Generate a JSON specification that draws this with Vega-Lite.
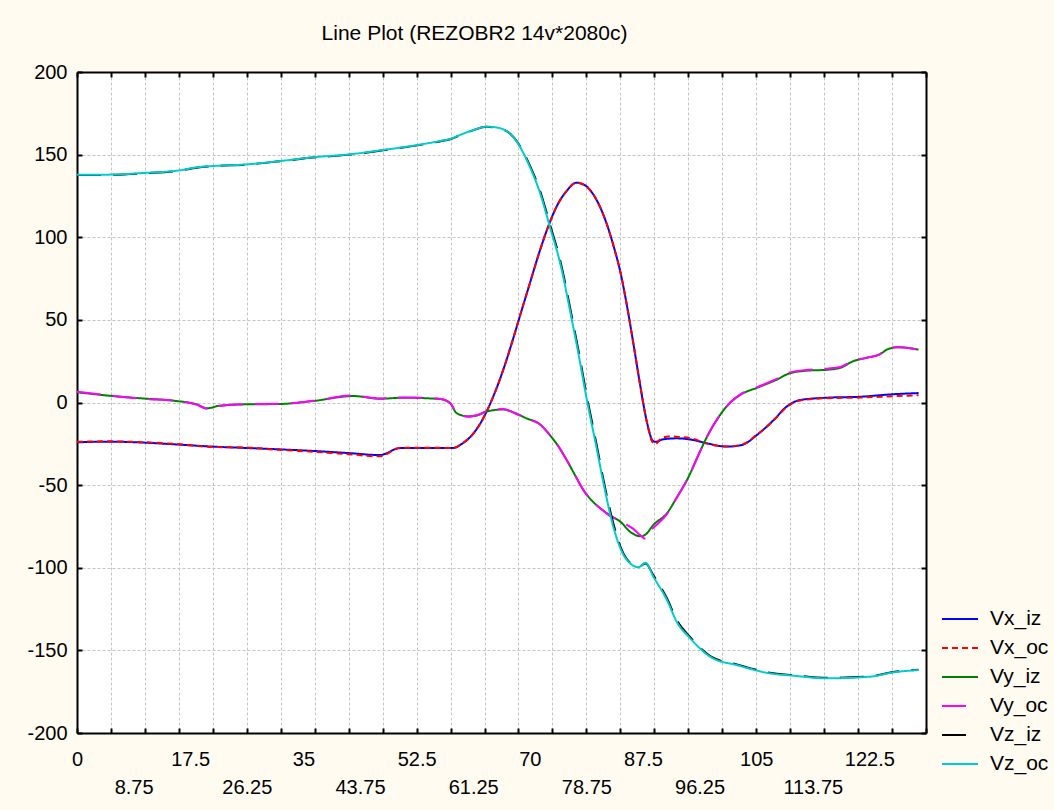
{
  "$schema": "https://vega.github.io/schema/vega-lite/v6.json",
  "autosize": "none",
  "width": 849,
  "height": 661,
  "padding": {"left": 77, "top": 72, "right": 128, "bottom": 77},
  "background": "#FFFBF0",
  "title": {"text": "Line Plot (REZOBR2 14v*2080c)", "font": "Liberation Sans", "fontSize": 21, "fontWeight": "normal", "color": "black", "anchor": "middle", "dx": -27, "offset": 18},
  "config": {"view": {"stroke": null, "fill": "white"}, "font": "Liberation Sans"},
  "datasets": {
    "d": [
      {"s":"Vx_iz","x":0,"v":-24.1},{"s":"Vx_iz","x":5,"v":-23.7},{"s":"Vx_iz","x":10,"v":-24.2},{"s":"Vx_iz","x":15,"v":-25.3},{"s":"Vx_iz","x":21,"v":-26.7},{"s":"Vx_iz","x":26,"v":-27.5},{"s":"Vx_iz","x":31,"v":-28.3},{"s":"Vx_iz","x":36.5,"v":-29.3},{"s":"Vx_iz","x":42,"v":-30.6},{"s":"Vx_iz","x":46.8,"v":-31.8},{"s":"Vx_iz","x":48,"v":-30.5},{"s":"Vx_iz","x":49,"v":-28.5},{"s":"Vx_iz","x":50,"v":-27.6},{"s":"Vx_iz","x":55,"v":-27.6},{"s":"Vx_iz","x":58.2,"v":-27.5},{"s":"Vx_iz","x":59.5,"v":-25},{"s":"Vx_iz","x":61,"v":-20},{"s":"Vx_iz","x":62.3,"v":-13},{"s":"Vx_iz","x":63.5,"v":-4},{"s":"Vx_iz","x":64.7,"v":7},{"s":"Vx_iz","x":66,"v":21},{"s":"Vx_iz","x":67.3,"v":37},{"s":"Vx_iz","x":68.6,"v":54},{"s":"Vx_iz","x":70,"v":72},{"s":"Vx_iz","x":71.4,"v":90},{"s":"Vx_iz","x":72.8,"v":106},{"s":"Vx_iz","x":74.2,"v":119},{"s":"Vx_iz","x":75.7,"v":128},{"s":"Vx_iz","x":77.2,"v":133},{"s":"Vx_iz","x":78.5,"v":131.5},{"s":"Vx_iz","x":79.8,"v":126},{"s":"Vx_iz","x":80.9,"v":118},{"s":"Vx_iz","x":81.9,"v":108},{"s":"Vx_iz","x":83,"v":94},{"s":"Vx_iz","x":84,"v":79},{"s":"Vx_iz","x":85,"v":59},{"s":"Vx_iz","x":86,"v":36},{"s":"Vx_iz","x":87,"v":12},{"s":"Vx_iz","x":87.7,"v":-4},{"s":"Vx_iz","x":88.3,"v":-15},{"s":"Vx_iz","x":88.9,"v":-22.5},{"s":"Vx_iz","x":89.4,"v":-23.8},{"s":"Vx_iz","x":90.6,"v":-22.3},{"s":"Vx_iz","x":92.7,"v":-21.7},{"s":"Vx_iz","x":95.3,"v":-22.7},{"s":"Vx_iz","x":97.4,"v":-24.7},{"s":"Vx_iz","x":100.4,"v":-26.7},{"s":"Vx_iz","x":102.8,"v":-25.7},{"s":"Vx_iz","x":105.1,"v":-19.7},{"s":"Vx_iz","x":107.7,"v":-10.6},{"s":"Vx_iz","x":109.7,"v":-2.5},{"s":"Vx_iz","x":111.8,"v":1.5},{"s":"Vx_iz","x":115.9,"v":2.9},{"s":"Vx_iz","x":121.1,"v":3.5},{"s":"Vx_iz","x":126.2,"v":5.0},{"s":"Vx_iz","x":130.1,"v":5.7},

      {"s":"Vx_oc","x":0,"v":-23.8},{"s":"Vx_oc","x":5,"v":-23.5},{"s":"Vx_oc","x":10,"v":-24.0},{"s":"Vx_oc","x":15,"v":-25.0},{"s":"Vx_oc","x":21,"v":-26.9},{"s":"Vx_oc","x":26,"v":-27.2},{"s":"Vx_oc","x":31,"v":-28.6},{"s":"Vx_oc","x":36.5,"v":-29.8},{"s":"Vx_oc","x":42,"v":-31.3},{"s":"Vx_oc","x":46.8,"v":-32.6},{"s":"Vx_oc","x":48,"v":-31},{"s":"Vx_oc","x":49,"v":-28.5},{"s":"Vx_oc","x":50,"v":-27.4},{"s":"Vx_oc","x":55,"v":-27.4},{"s":"Vx_oc","x":58.2,"v":-27.5},{"s":"Vx_oc","x":59.5,"v":-25},{"s":"Vx_oc","x":61,"v":-20},{"s":"Vx_oc","x":62.3,"v":-13},{"s":"Vx_oc","x":63.5,"v":-4},{"s":"Vx_oc","x":64.7,"v":7},{"s":"Vx_oc","x":66,"v":21},{"s":"Vx_oc","x":67.3,"v":37},{"s":"Vx_oc","x":68.6,"v":54},{"s":"Vx_oc","x":70,"v":72},{"s":"Vx_oc","x":71.4,"v":90},{"s":"Vx_oc","x":72.8,"v":106},{"s":"Vx_oc","x":74.2,"v":119},{"s":"Vx_oc","x":75.7,"v":128},{"s":"Vx_oc","x":77.2,"v":133},{"s":"Vx_oc","x":78.5,"v":131.5},{"s":"Vx_oc","x":79.8,"v":126},{"s":"Vx_oc","x":80.9,"v":118},{"s":"Vx_oc","x":81.9,"v":108},{"s":"Vx_oc","x":83,"v":94},{"s":"Vx_oc","x":84,"v":79},{"s":"Vx_oc","x":85,"v":59},{"s":"Vx_oc","x":86,"v":36},{"s":"Vx_oc","x":87,"v":12},{"s":"Vx_oc","x":87.7,"v":-4},{"s":"Vx_oc","x":88.3,"v":-15.5},{"s":"Vx_oc","x":88.9,"v":-23.5},{"s":"Vx_oc","x":89.4,"v":-25.2},{"s":"Vx_oc","x":90.3,"v":-21.8},{"s":"Vx_oc","x":91.5,"v":-20.5},{"s":"Vx_oc","x":93,"v":-20.8},{"s":"Vx_oc","x":95.3,"v":-22.0},{"s":"Vx_oc","x":97.4,"v":-24.9},{"s":"Vx_oc","x":100.4,"v":-26.6},{"s":"Vx_oc","x":102.8,"v":-25.5},{"s":"Vx_oc","x":105.1,"v":-19.5},{"s":"Vx_oc","x":107.7,"v":-10.8},{"s":"Vx_oc","x":109.7,"v":-2.8},{"s":"Vx_oc","x":111.8,"v":1.2},{"s":"Vx_oc","x":115.9,"v":2.6},{"s":"Vx_oc","x":121.1,"v":3.0},{"s":"Vx_oc","x":126.2,"v":3.8},{"s":"Vx_oc","x":130.1,"v":4.4},

      {"s":"Vy_iz","x":0,"v":6.2},{"s":"Vy_iz","x":5,"v":4.1},{"s":"Vy_iz","x":10,"v":2.5},{"s":"Vy_iz","x":15.4,"v":0.9},{"s":"Vy_iz","x":18.5,"v":-1.1},{"s":"Vy_iz","x":20.1,"v":-3.5},{"s":"Vy_iz","x":22.1,"v":-1.9},{"s":"Vy_iz","x":26.2,"v":-1.1},{"s":"Vy_iz","x":31.4,"v":-0.9},{"s":"Vy_iz","x":36.5,"v":0.9},{"s":"Vy_iz","x":42.7,"v":3.9},{"s":"Vy_iz","x":46.8,"v":2.3},{"s":"Vy_iz","x":50.4,"v":2.9},{"s":"Vy_iz","x":56.1,"v":2.1},{"s":"Vy_iz","x":57.7,"v":-0.5},{"s":"Vy_iz","x":58.7,"v":-6.5},{"s":"Vy_iz","x":60.5,"v":-8.4},{"s":"Vy_iz","x":62,"v":-7.6},{"s":"Vy_iz","x":63.3,"v":-5.5},{"s":"Vy_iz","x":65.9,"v":-4.2},{"s":"Vy_iz","x":67.5,"v":-6},{"s":"Vy_iz","x":69.5,"v":-9.6},{"s":"Vy_iz","x":71.5,"v":-13},{"s":"Vy_iz","x":73.1,"v":-19.7},{"s":"Vy_iz","x":74.5,"v":-27},{"s":"Vy_iz","x":75.7,"v":-34.8},{"s":"Vy_iz","x":77,"v":-44},{"s":"Vy_iz","x":78.3,"v":-53},{"s":"Vy_iz","x":79.5,"v":-59},{"s":"Vy_iz","x":80.9,"v":-64},{"s":"Vy_iz","x":82.5,"v":-68.5},{"s":"Vy_iz","x":84,"v":-72.1},{"s":"Vy_iz","x":85.5,"v":-78.2},{"s":"Vy_iz","x":86.5,"v":-80.5},{"s":"Vy_iz","x":87.3,"v":-81},{"s":"Vy_iz","x":88,"v":-79.5},{"s":"Vy_iz","x":89.1,"v":-74.1},{"s":"Vy_iz","x":91.2,"v":-67},{"s":"Vy_iz","x":92.8,"v":-57},{"s":"Vy_iz","x":94.3,"v":-46.9},{"s":"Vy_iz","x":96.3,"v":-29.8},{"s":"Vy_iz","x":97.4,"v":-20.7},{"s":"Vy_iz","x":99.4,"v":-7.6},{"s":"Vy_iz","x":101,"v":0},{"s":"Vy_iz","x":102.5,"v":4.5},{"s":"Vy_iz","x":105.6,"v":9.6},{"s":"Vy_iz","x":108,"v":13.5},{"s":"Vy_iz","x":110.2,"v":17.7},{"s":"Vy_iz","x":113,"v":19.3},{"s":"Vy_iz","x":116,"v":19.8},{"s":"Vy_iz","x":118,"v":21},{"s":"Vy_iz","x":120,"v":25},{"s":"Vy_iz","x":122,"v":27},{"s":"Vy_iz","x":124,"v":29},{"s":"Vy_iz","x":125.5,"v":32.5},{"s":"Vy_iz","x":127,"v":33.5},{"s":"Vy_iz","x":128.5,"v":33},{"s":"Vy_iz","x":130.1,"v":32},

      {"s":"Vy_oc","x":0,"v":6.5},{"s":"Vy_oc","x":5,"v":4.3},{"s":"Vy_oc","x":10,"v":2.3},{"s":"Vy_oc","x":15.4,"v":1.0},{"s":"Vy_oc","x":18.5,"v":-1.3},{"s":"Vy_oc","x":20.1,"v":-3.8},{"s":"Vy_oc","x":22.1,"v":-2.1},{"s":"Vy_oc","x":26.2,"v":-1.0},{"s":"Vy_oc","x":31.4,"v":-0.8},{"s":"Vy_oc","x":36.5,"v":1.0},{"s":"Vy_oc","x":42.7,"v":4.2},{"s":"Vy_oc","x":46.8,"v":2.4},{"s":"Vy_oc","x":50.4,"v":3.0},{"s":"Vy_oc","x":56.1,"v":2.3},{"s":"Vy_oc","x":57.7,"v":-0.3},{"s":"Vy_oc","x":58.7,"v":-6.2},{"s":"Vy_oc","x":60.5,"v":-8.6},{"s":"Vy_oc","x":62,"v":-7.4},{"s":"Vy_oc","x":63.3,"v":-5.3},{"s":"Vy_oc","x":65.9,"v":-4.0},{"s":"Vy_oc","x":67.5,"v":-6.2},{"s":"Vy_oc","x":69.5,"v":-9.8},{"s":"Vy_oc","x":71.5,"v":-13},{"s":"Vy_oc","x":73.1,"v":-19.7},{"s":"Vy_oc","x":74.5,"v":-27},{"s":"Vy_oc","x":75.7,"v":-34.8},{"s":"Vy_oc","x":77,"v":-44},{"s":"Vy_oc","x":78.3,"v":-53},{"s":"Vy_oc","x":79.5,"v":-59},{"s":"Vy_oc","x":80.9,"v":-64},{"s":"Vy_oc","x":82.5,"v":-69},{"s":"Vy_oc","x":84,"v":-71.5},{"s":"Vy_oc","x":85,"v":-74},{"s":"Vy_oc","x":86,"v":-76.5},{"s":"Vy_oc","x":87,"v":-80},{"s":"Vy_oc","x":87.9,"v":-82.5},{"s":"Vy_oc","x":88.8,"v":-77},{"s":"Vy_oc","x":89.6,"v":-74},{"s":"Vy_oc","x":91.2,"v":-67.5},{"s":"Vy_oc","x":92.8,"v":-57},{"s":"Vy_oc","x":94.3,"v":-46.9},{"s":"Vy_oc","x":96.3,"v":-29.8},{"s":"Vy_oc","x":97.4,"v":-20.7},{"s":"Vy_oc","x":99.4,"v":-7.6},{"s":"Vy_oc","x":101,"v":0},{"s":"Vy_oc","x":102.5,"v":4.8},{"s":"Vy_oc","x":105.6,"v":10},{"s":"Vy_oc","x":108,"v":14},{"s":"Vy_oc","x":110.2,"v":18.2},{"s":"Vy_oc","x":113,"v":19.8},{"s":"Vy_oc","x":116,"v":20.5},{"s":"Vy_oc","x":118,"v":21.5},{"s":"Vy_oc","x":120,"v":25.3},{"s":"Vy_oc","x":122,"v":27},{"s":"Vy_oc","x":124,"v":29},{"s":"Vy_oc","x":125.5,"v":32.8},{"s":"Vy_oc","x":127,"v":33.5},{"s":"Vy_oc","x":128.5,"v":33},{"s":"Vy_oc","x":130.1,"v":32},

      {"s":"Vz_iz","x":0,"v":137.6},{"s":"Vz_iz","x":5.1,"v":137.8},{"s":"Vz_iz","x":10.3,"v":138.7},{"s":"Vz_iz","x":15.9,"v":140.3},{"s":"Vz_iz","x":18.5,"v":142.1},{"s":"Vz_iz","x":21,"v":143.0},{"s":"Vz_iz","x":26.3,"v":144.0},{"s":"Vz_iz","x":31.4,"v":146.0},{"s":"Vz_iz","x":36.5,"v":148.2},{"s":"Vz_iz","x":42.2,"v":150.0},{"s":"Vz_iz","x":47.3,"v":152.6},{"s":"Vz_iz","x":52.6,"v":155.6},{"s":"Vz_iz","x":56.1,"v":158.0},{"s":"Vz_iz","x":57.7,"v":159.3},{"s":"Vz_iz","x":59.2,"v":161.7},{"s":"Vz_iz","x":61.3,"v":164.8},{"s":"Vz_iz","x":63.3,"v":166.8},{"s":"Vz_iz","x":64.7,"v":166.4},{"s":"Vz_iz","x":65.9,"v":165.2},{"s":"Vz_iz","x":67,"v":162.5},{"s":"Vz_iz","x":68,"v":158},{"s":"Vz_iz","x":69,"v":151.5},{"s":"Vz_iz","x":70,"v":143.5},{"s":"Vz_iz","x":71.6,"v":128},{"s":"Vz_iz","x":73.1,"v":108},{"s":"Vz_iz","x":74.7,"v":86},{"s":"Vz_iz","x":76.5,"v":52},{"s":"Vz_iz","x":77.5,"v":32},{"s":"Vz_iz","x":78.9,"v":2},{"s":"Vz_iz","x":80.2,"v":-23},{"s":"Vz_iz","x":81.4,"v":-47},{"s":"Vz_iz","x":82.9,"v":-73},{"s":"Vz_iz","x":84.2,"v":-89},{"s":"Vz_iz","x":85.5,"v":-97},{"s":"Vz_iz","x":86.8,"v":-99.5},{"s":"Vz_iz","x":87.9,"v":-97.5},{"s":"Vz_iz","x":89.1,"v":-104.5},{"s":"Vz_iz","x":91.2,"v":-118.5},{"s":"Vz_iz","x":92.7,"v":-131.5},{"s":"Vz_iz","x":94.8,"v":-142},{"s":"Vz_iz","x":96.5,"v":-149},{"s":"Vz_iz","x":98.1,"v":-154},{"s":"Vz_iz","x":102,"v":-158.5},{"s":"Vz_iz","x":107.1,"v":-163.5},{"s":"Vz_iz","x":110.7,"v":-165},{"s":"Vz_iz","x":115.9,"v":-166.6},{"s":"Vz_iz","x":122.6,"v":-165.7},{"s":"Vz_iz","x":126.2,"v":-163.1},{"s":"Vz_iz","x":130.1,"v":-161.7},

      {"s":"Vz_oc","x":0,"v":137.8},{"s":"Vz_oc","x":5.1,"v":137.9},{"s":"Vz_oc","x":10.3,"v":138.9},{"s":"Vz_oc","x":15.9,"v":140.5},{"s":"Vz_oc","x":18.5,"v":142.3},{"s":"Vz_oc","x":21,"v":143.1},{"s":"Vz_oc","x":26.3,"v":144.1},{"s":"Vz_oc","x":31.4,"v":146.1},{"s":"Vz_oc","x":36.5,"v":148.4},{"s":"Vz_oc","x":42.2,"v":150.2},{"s":"Vz_oc","x":47.3,"v":152.8},{"s":"Vz_oc","x":52.6,"v":155.8},{"s":"Vz_oc","x":56.1,"v":158.2},{"s":"Vz_oc","x":57.7,"v":159.5},{"s":"Vz_oc","x":59.2,"v":161.9},{"s":"Vz_oc","x":61.3,"v":164.9},{"s":"Vz_oc","x":63.3,"v":166.9},{"s":"Vz_oc","x":64.7,"v":166.5},{"s":"Vz_oc","x":65.9,"v":165.3},{"s":"Vz_oc","x":67,"v":162.5},{"s":"Vz_oc","x":68,"v":157.8},{"s":"Vz_oc","x":69,"v":151},{"s":"Vz_oc","x":70,"v":142.7},{"s":"Vz_oc","x":71.6,"v":126.6},{"s":"Vz_oc","x":73.1,"v":106.4},{"s":"Vz_oc","x":74.7,"v":84.2},{"s":"Vz_oc","x":76.5,"v":50},{"s":"Vz_oc","x":77.5,"v":30},{"s":"Vz_oc","x":78.9,"v":0},{"s":"Vz_oc","x":80.2,"v":-25},{"s":"Vz_oc","x":81.4,"v":-48.9},{"s":"Vz_oc","x":82.9,"v":-75},{"s":"Vz_oc","x":84.2,"v":-90},{"s":"Vz_oc","x":85.5,"v":-97.3},{"s":"Vz_oc","x":86.8,"v":-99.7},{"s":"Vz_oc","x":87.9,"v":-97},{"s":"Vz_oc","x":89.1,"v":-105.4},{"s":"Vz_oc","x":91.2,"v":-119.5},{"s":"Vz_oc","x":92.7,"v":-132.6},{"s":"Vz_oc","x":94.8,"v":-142.7},{"s":"Vz_oc","x":96.5,"v":-149.5},{"s":"Vz_oc","x":98.1,"v":-154.4},{"s":"Vz_oc","x":102,"v":-158.9},{"s":"Vz_oc","x":107.1,"v":-163.9},{"s":"Vz_oc","x":110.7,"v":-165.3},{"s":"Vz_oc","x":115.9,"v":-166.9},{"s":"Vz_oc","x":122.6,"v":-165.9},{"s":"Vz_oc","x":126.2,"v":-163.3},{"s":"Vz_oc","x":130.1,"v":-161.9}
    ]
  },
  "data": {"name": "d"},
  "layer": [
    {
      "mark": {"type": "line", "strokeWidth": 2, "interpolate": "monotone"},
      "encoding": {
        "x": {
          "field": "x", "type": "quantitative",
          "scale": {"domain": [0, 131.25], "nice": false, "zero": false},
          "axis": {
            "orient": "bottom", "title": null,
            "values": [0, 5.25, 8.75, 10.5, 15.75, 17.5, 21, 26.25, 31.5, 35, 36.75, 42, 43.75, 47.25, 52.5, 57.75, 61.25, 63, 68.25, 70, 73.5, 78.75, 84, 87.5, 89.25, 94.5, 96.25, 99.75, 105, 110.25, 113.75, 115.5, 120.75, 122.5, 126, 131.25],
            "labelExpr": "(abs(datum.value/8.75 - round(datum.value/8.75)) < 0.01 && datum.value < 130) ? ('' + datum.value) : ''",
            "labelPadding": {"condition": {"test": "round(datum.value/8.75) % 2 == 1", "value": 49}, "value": 21},
            "labelOverlap": false, "labelFlush": false, "labelBound": false,
            "labelFont": "Liberation Sans", "labelFontSize": 20, "labelColor": "black",
            "domainColor": "black", "domainWidth": 2,
            "tickColor": "black", "tickWidth": 2, "tickSize": -5,
            "tickOpacity": {"condition": {"test": "abs(datum.value/5.25 - round(datum.value/5.25)) < 0.01", "value": 1}, "value": 0},
            "grid": true, "gridColor": "#c4c4c4", "gridDash": [3, 2], "gridWidth": 1,
            "gridOpacity": {"condition": {"test": "abs(datum.value/5.25 - round(datum.value/5.25)) < 0.01", "value": 1}, "value": 0}
          }
        },
        "y": {
          "field": "v", "type": "quantitative",
          "scale": {"domain": [-200, 200], "nice": false},
          "axis": {
            "orient": "left", "title": null,
            "values": [-200, -150, -100, -50, 0, 50, 100, 150, 200],
            "labelExpr": "'' + datum.value",
            "labelFont": "Liberation Sans", "labelFontSize": 20, "labelColor": "black", "labelPadding": 15,
            "labelFlush": false, "labelOverlap": false, "labelBound": false,
            "domainColor": "black", "domainWidth": 2,
            "tickColor": "black", "tickWidth": 2, "tickSize": -5,
            "grid": true, "gridColor": "#c4c4c4", "gridDash": [3, 2], "gridWidth": 1
          }
        },
        "color": {
          "field": "s", "type": "nominal",
          "scale": {"domain": ["Vx_iz", "Vx_oc", "Vy_iz", "Vy_oc", "Vz_iz", "Vz_oc"], "range": ["#0000FF", "#FF0000", "#008000", "#FF00FF", "#000000", "#00CCCC"]},
          "legend": {"title": null, "orient": "none", "legendX": 872, "legendY": 536, "symbolType": "M-1.8,0H1.8", "symbolSize": 400, "symbolStrokeWidth": 2, "labelFont": "Liberation Sans", "labelFontSize": 21, "labelColor": "black", "rowPadding": 8, "labelOffset": 19, "padding": 0}
        },
        "strokeDash": {
          "field": "s", "type": "nominal",
          "scale": {"domain": ["Vx_iz", "Vx_oc", "Vy_iz", "Vy_oc", "Vz_iz", "Vz_oc"], "range": [[1, 0], [6, 4], [1, 0], [24, 12], [24, 12], [1, 0]]},
          "legend": {"title": null, "orient": "none", "legendX": 872, "legendY": 536, "symbolType": "M-1.8,0H1.8", "symbolSize": 400, "symbolStrokeWidth": 2, "labelFont": "Liberation Sans", "labelFontSize": 21, "labelColor": "black", "rowPadding": 8, "labelOffset": 19, "padding": 0}
        }
      }
    },
    {
      "mark": {"type": "line", "opacity": 0},
      "encoding": {
        "detail": {"field": "s", "type": "nominal"},
        "x": {
          "field": "x", "type": "quantitative",
          "axis": {"orient": "top", "title": null, "labels": false, "grid": false,
            "values": [0, 5.25, 10.5, 15.75, 21, 26.25, 31.5, 36.75, 42, 47.25, 52.5, 57.75, 63, 68.25, 73.5, 78.75, 84, 89.25, 94.5, 99.75, 105, 110.25, 115.5, 120.75, 126, 131.25],
            "domainColor": "black", "domainWidth": 2, "tickColor": "black", "tickWidth": 2, "tickSize": -5}
        },
        "y": {
          "field": "v", "type": "quantitative",
          "axis": {"orient": "right", "title": null, "labels": false, "grid": false,
            "values": [-200, -150, -100, -50, 0, 50, 100, 150, 200],
            "domainColor": "black", "domainWidth": 2, "tickColor": "black", "tickWidth": 2, "tickSize": -5}
        }
      }
    }
  ],
  "resolve": {"axis": {"x": "independent", "y": "independent"}}
}
